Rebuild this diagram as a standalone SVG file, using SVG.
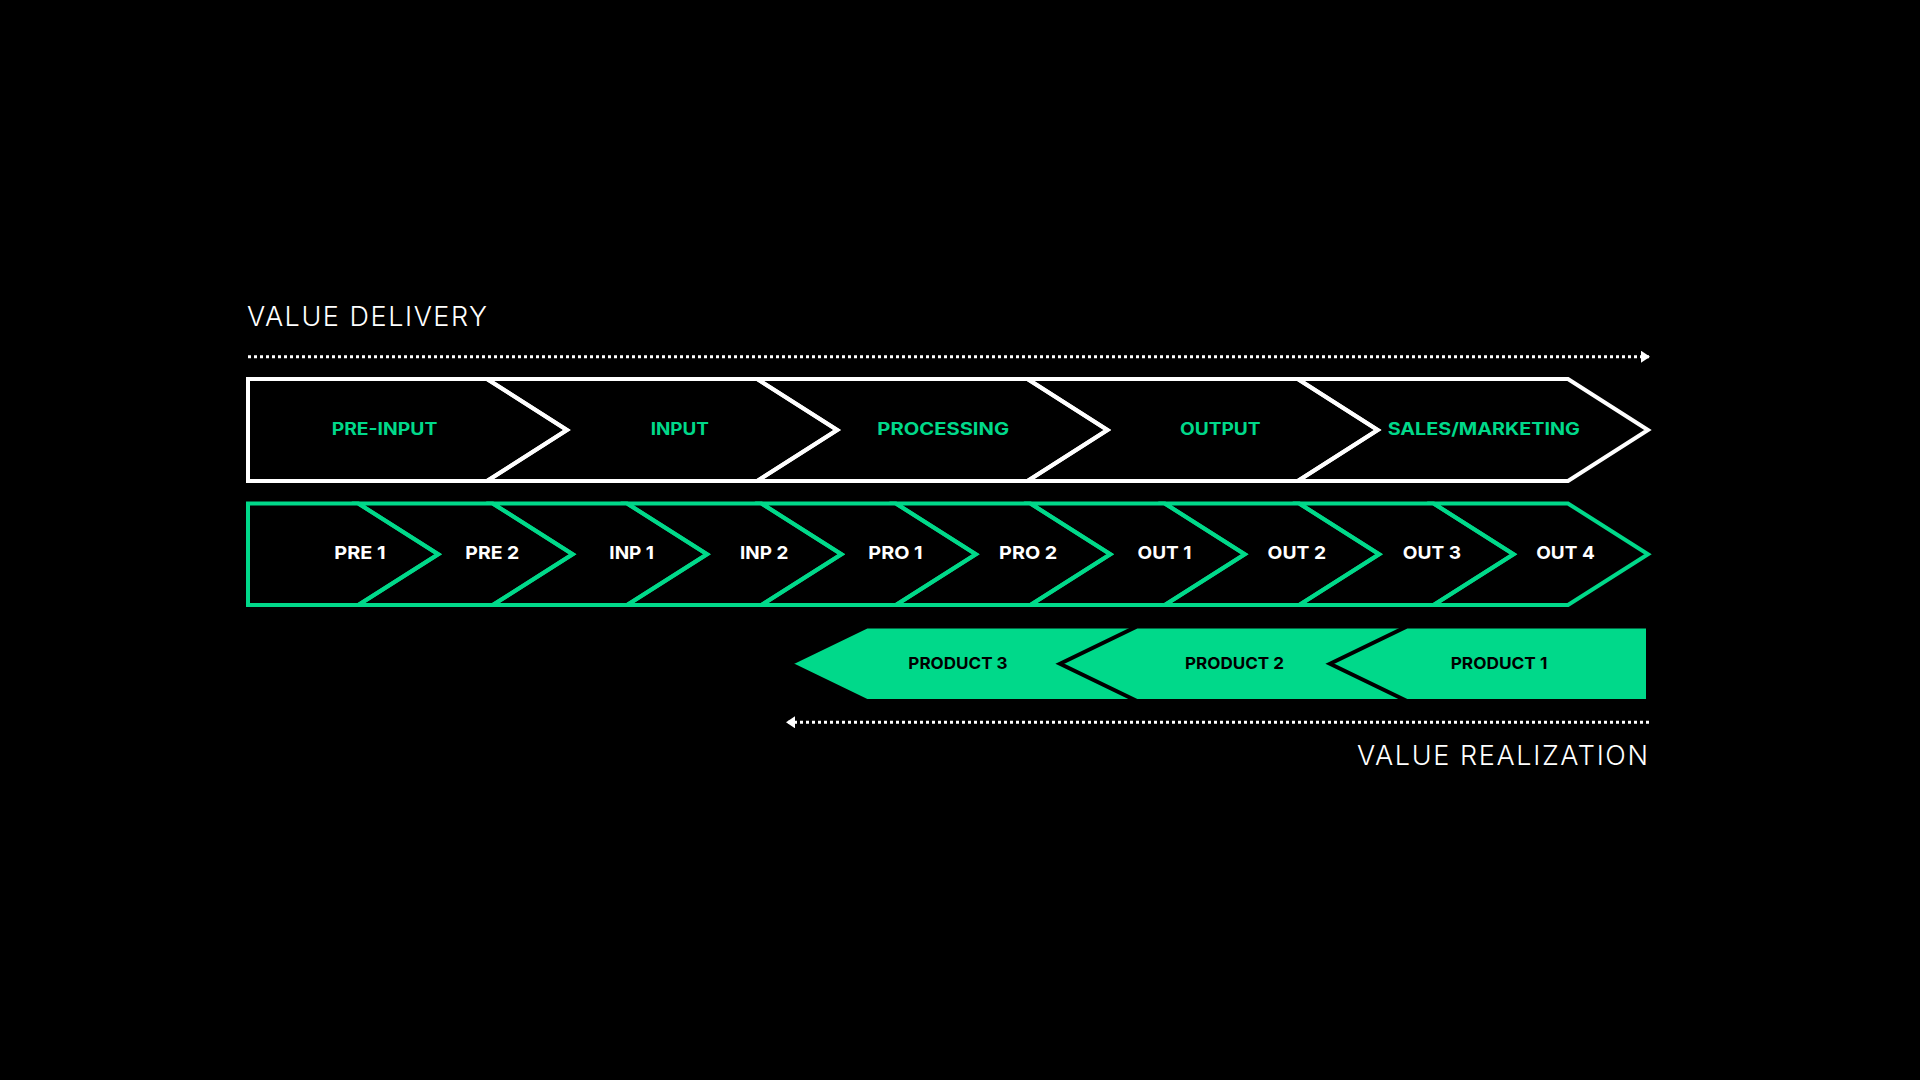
<svg xmlns="http://www.w3.org/2000/svg" width="1920" height="1080" viewBox="0 0 1920 1080">
<style>
.bg{fill:#000}
.stage{fill:none;stroke:#fff;stroke-width:4;stroke-linejoin:miter}
.step{fill:none;stroke:#00D98A;stroke-width:4;stroke-linejoin:miter}
.prod{fill:#00D98A;stroke:#000;stroke-width:4;stroke-linejoin:miter}
.dots{fill:none;stroke:#fff;stroke-width:3;stroke-dasharray:3 3}
.head{font-family:Inter,"Liberation Sans",sans-serif;font-weight:300;font-size:27px;fill:#fff}
.t1{font-family:Inter,"Liberation Sans",sans-serif;font-weight:700;font-size:17px;fill:#00D98A;text-anchor:middle}
.t2{font-family:Inter,"Liberation Sans",sans-serif;font-weight:700;font-size:18px;fill:#fff;text-anchor:middle}
.t3{font-family:Inter,"Liberation Sans",sans-serif;font-weight:700;font-size:16.5px;fill:#000;text-anchor:middle}
</style>
<defs>
<marker id="ah" markerUnits="userSpaceOnUse" markerWidth="12" markerHeight="14" refX="9" refY="6" orient="auto">
<path d="M0,0 L9,6 L0,12 Z" fill="#fff"/>
</marker>
</defs>
<rect class="bg" x="0" y="0" width="1920" height="1080"/>

<text class="head" x="247" y="326" textLength="240">VALUE DELIVERY</text>
<text class="head" x="1357" y="765" textLength="291">VALUE REALIZATION</text>

<g id="connectors">
<path class="dots" d="M248,356.7 H1650" marker-end="url(#ah)"/>
<path class="dots" d="M1649,722.3 H786" marker-end="url(#ah)"/>
</g>

<g id="stage-pre-input"><path class="stage" d="M248,379 L487,379 L567,430 L487,481 L248,481 Z"/><text class="t1" x="384.5" y="435" textLength="105.7" lengthAdjust="spacingAndGlyphs">PRE-INPUT</text></g>
<g id="stage-input"><path class="stage" d="M487,379 L757.25,379 L837.25,430 L757.25,481 L487,481 L567,430 Z"/><text class="t1" x="679.8" y="435" textLength="58.3" lengthAdjust="spacingAndGlyphs">INPUT</text></g>
<g id="stage-processing"><path class="stage" d="M757.25,379 L1027.5,379 L1107.5,430 L1027.5,481 L757.25,481 L837.25,430 Z"/><text class="t1" x="943.2" y="435" textLength="131.7" lengthAdjust="spacingAndGlyphs">PROCESSING</text></g>
<g id="stage-output"><path class="stage" d="M1027.5,379 L1297.75,379 L1377.75,430 L1297.75,481 L1027.5,481 L1107.5,430 Z"/><text class="t1" x="1220.3" y="435" textLength="80.7" lengthAdjust="spacingAndGlyphs">OUTPUT</text></g>
<g id="stage-sales"><path class="stage" d="M1297.75,379 L1568,379 L1648,430 L1568,481 L1297.75,481 L1377.75,430 Z"/><text class="t1" x="1483.8" y="435" textLength="192.3" lengthAdjust="spacingAndGlyphs">SALES/MARKETING</text></g>

<g id="step-pre1"><path class="step" d="M248,503.5 L358.3,503.5 L438.3,554.25 L358.3,605 L248,605 Z"/><text class="t2" x="360" y="558.5" textLength="51.3" lengthAdjust="spacingAndGlyphs">PRE 1</text></g>
<g id="step-pre2"><path class="step" d="M358.3,503.5 L492.7,503.5 L572.7,554.25 L492.7,605 L358.3,605 L438.3,554.25 Z"/><text class="t2" x="492.3" y="558.5" textLength="54" lengthAdjust="spacingAndGlyphs">PRE 2</text></g>
<g id="step-inp1"><path class="step" d="M492.7,503.5 L627.1,503.5 L707.1,554.25 L627.1,605 L492.7,605 L572.7,554.25 Z"/><text class="t2" x="631.7" y="558.5" textLength="44.7" lengthAdjust="spacingAndGlyphs">INP 1</text></g>
<g id="step-inp2"><path class="step" d="M627.1,503.5 L761.5,503.5 L841.5,554.25 L761.5,605 L627.1,605 L707.1,554.25 Z"/><text class="t2" x="764.2" y="558.5" textLength="48.3" lengthAdjust="spacingAndGlyphs">INP 2</text></g>
<g id="step-pro1"><path class="step" d="M761.5,503.5 L895.9,503.5 L975.9,554.25 L895.9,605 L761.5,605 L841.5,554.25 Z"/><text class="t2" x="895.5" y="558.5" textLength="54.3" lengthAdjust="spacingAndGlyphs">PRO 1</text></g>
<g id="step-pro2"><path class="step" d="M895.9,503.5 L1030.4,503.5 L1110.4,554.25 L1030.4,605 L895.9,605 L975.9,554.25 Z"/><text class="t2" x="1028.2" y="558.5" textLength="58.3" lengthAdjust="spacingAndGlyphs">PRO 2</text></g>
<g id="step-out1"><path class="step" d="M1030.4,503.5 L1164.8,503.5 L1244.8,554.25 L1164.8,605 L1030.4,605 L1110.4,554.25 Z"/><text class="t2" x="1164.5" y="558.5" textLength="54" lengthAdjust="spacingAndGlyphs">OUT 1</text></g>
<g id="step-out2"><path class="step" d="M1164.8,503.5 L1299.2,503.5 L1379.2,554.25 L1299.2,605 L1164.8,605 L1244.8,554.25 Z"/><text class="t2" x="1296.8" y="558.5" textLength="58.5" lengthAdjust="spacingAndGlyphs">OUT 2</text></g>
<g id="step-out3"><path class="step" d="M1299.2,503.5 L1433.6,503.5 L1513.6,554.25 L1433.6,605 L1299.2,605 L1379.2,554.25 Z"/><text class="t2" x="1431.9" y="558.5" textLength="58.2" lengthAdjust="spacingAndGlyphs">OUT 3</text></g>
<g id="step-out4"><path class="step" d="M1433.6,503.5 L1568,503.5 L1648,554.25 L1568,605 L1433.6,605 L1513.6,554.25 Z"/><text class="t2" x="1565.5" y="558.5" textLength="58.5" lengthAdjust="spacingAndGlyphs">OUT 4</text></g>

<g id="product-3"><path class="prod" d="M790,663.75 L867,626.5 L1648,626.5 L1648,701 L867,701 Z"/><text class="t3" x="958" y="668.5" textLength="99.3" lengthAdjust="spacingAndGlyphs">PRODUCT 3</text></g>
<g id="product-2"><path class="prod" d="M1060,663.75 L1137,626.5 L1648,626.5 L1648,701 L1137,701 Z"/><text class="t3" x="1234.5" y="668.5" textLength="99" lengthAdjust="spacingAndGlyphs">PRODUCT 2</text></g>
<g id="product-1"><path class="prod" d="M1330,663.75 L1407,626.5 L1648,626.5 L1648,701 L1407,701 Z"/><text class="t3" x="1499" y="668.5" textLength="96.7" lengthAdjust="spacingAndGlyphs">PRODUCT 1</text></g>
</svg>
